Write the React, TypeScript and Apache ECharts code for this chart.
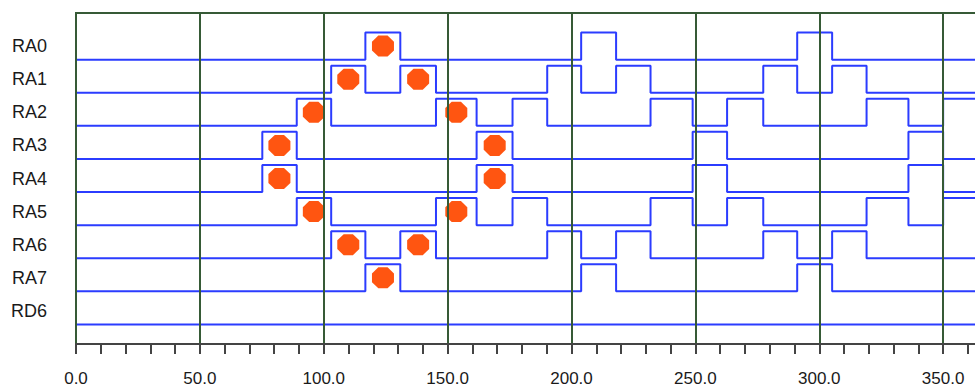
import React, { useEffect, useRef } from "react";
import * as echarts from "echarts";

const channels = ["RA0", "RA1", "RA2", "RA3", "RA4", "RA5", "RA6", "RA7", "RD6"];

// Edge times (state toggles, starting low)
const edgesRA0 = [116.8, 130.9, 203.9, 218.0, 291.1, 305.2];
const edgesRA1 = [103.0, 116.8, 130.9, 145.3, 190.2, 203.9, 218.0, 231.9, 277.4, 291.1, 305.2, 319.1];
const edgesRA2 = [89.1, 103.0, 145.3, 161.7, 176.2, 190.2, 231.9, 248.9, 262.8, 277.4, 319.1, 336.0, 350.0];
const edgesRA3 = [75.2, 89.1, 161.7, 176.2, 248.9, 262.8, 336.0, 350.0];
const edgesRA4 = [75.2, 89.1, 161.7, 176.2, 248.9, 262.8, 336.0, 350.0];
const edgesRA5 = [89.1, 103.0, 145.3, 161.7, 176.2, 190.2, 231.9, 248.9, 262.8, 277.4, 319.1, 336.0, 350.0];
const edgesRA6 = [103.0, 116.8, 130.9, 145.3, 190.2, 203.9, 218.0, 231.9, 277.4, 291.1, 305.2, 319.1];
const edgesRA7 = [116.8, 130.9, 203.9, 218.0, 291.1, 305.2];
const edgesRD6: number[] = [];

// Marker (dot) times
const dotsRA0 = [123.9];
const dotsRA1 = [109.9, 138.1];
const dotsRA2 = [96.0, 153.5];
const dotsRA3 = [82.1, 169.0];
const dotsRA4 = [82.1, 169.0];
const dotsRA5 = [96.0, 153.5];
const dotsRA6 = [109.9, 138.1];
const dotsRA7 = [123.9];
const dotsRD6: number[] = [];

const xTickLabels = ["0.0", "50.0", "100.0", "150.0", "200.0", "250.0", "300.0", "350.0"];

const allEdges = [edgesRA0, edgesRA1, edgesRA2, edgesRA3, edgesRA4, edgesRA5, edgesRA6, edgesRA7, edgesRD6];
const allDots = [dotsRA0, dotsRA1, dotsRA2, dotsRA3, dotsRA4, dotsRA5, dotsRA6, dotsRA7, dotsRD6];

const X_MAX = 400;
const HALF = 0.41;
const GREEN = "#365a36";
const BLUE = "#2b3cff";
const DOT = "#ff5511";
const OCTAGON = "path://M29,0 L71,0 L100,29 L100,71 L71,100 L29,100 L0,71 L0,29 Z";

function buildTrace(edges: number[], level: number): number[][] {
  const low = level - HALF;
  const high = level + HALF;
  let state = low;
  const pts: number[][] = [[0, state]];
  for (const t of edges) {
    pts.push([t, state]);
    state = state === low ? high : low;
    pts.push([t, state]);
  }
  pts.push([X_MAX, state]);
  return pts;
}

export default function App() {
  const ref = useRef<HTMLDivElement>(null);
  useEffect(() => {
    if (!ref.current) return;
    const chart = echarts.init(ref.current, null, { renderer: "svg" });
    const series: any[] = [];
    channels.forEach((name, i) => {
      const level = channels.length - i;
      series.push({
        type: "line",
        name,
        data: buildTrace(allEdges[i], level),
        showSymbol: false,
        symbol: "none",
        lineStyle: { color: BLUE, width: 2 },
        z: 2,
      });
      if (allDots[i].length) {
        series.push({
          type: "scatter",
          name: name + " marks",
          data: allDots[i].map((x) => [x, level]),
          symbol: OCTAGON,
          symbolSize: [22, 21],
          itemStyle: { color: DOT, opacity: 1 },
          z: 3,
        });
      }
    });
    chart.setOption({
      animation: false,
      backgroundColor: "#ffffff",
      grid: {
        left: 76,
        top: 13,
        width: 991,
        bottom: 42,
        show: true,
        borderColor: GREEN,
        borderWidth: 2,
        backgroundColor: "transparent",
      },
      xAxis: {
        type: "value",
        min: 0,
        max: X_MAX,
        interval: 50,
        offset: 8,
        z: 10,
        axisLine: { show: true, lineStyle: { color: "#444444", width: 2 } },
        axisTick: { show: true, length: 10, lineStyle: { color: "#444444", width: 2 } },
        minorTick: { show: true, splitNumber: 5, length: 10, lineStyle: { color: "#444444", width: 2 } },
        splitLine: { show: true, lineStyle: { color: GREEN, width: 2 } },
        axisLabel: {
          margin: 18,
          fontSize: 17,
          color: "#1a1a1a",
          fontFamily: "Liberation Sans",
          formatter: (v: number) => xTickLabels[Math.round(v / 50)] ?? "",
        },
      },
      yAxis: {
        type: "value",
        min: 0,
        max: 10,
        interval: 1,
        axisLine: { show: false },
        axisTick: { show: false },
        splitLine: { show: false },
        axisLabel: {
          margin: 29,
          fontSize: 18,
          color: "#1a1a1a",
          fontFamily: "Liberation Sans",
          formatter: (v: number) => (v >= 1 && v <= 9 ? channels[9 - v] : ""),
        },
      },
      series,
    });
    return () => chart.dispose();
  }, []);
  return (
    <div style={{ position: "fixed", left: 0, top: 0, width: 975, height: 387, overflow: "hidden", background: "#fff" }}>
      <div ref={ref} style={{ width: 1100, height: 387 }} />
    </div>
  );
}
